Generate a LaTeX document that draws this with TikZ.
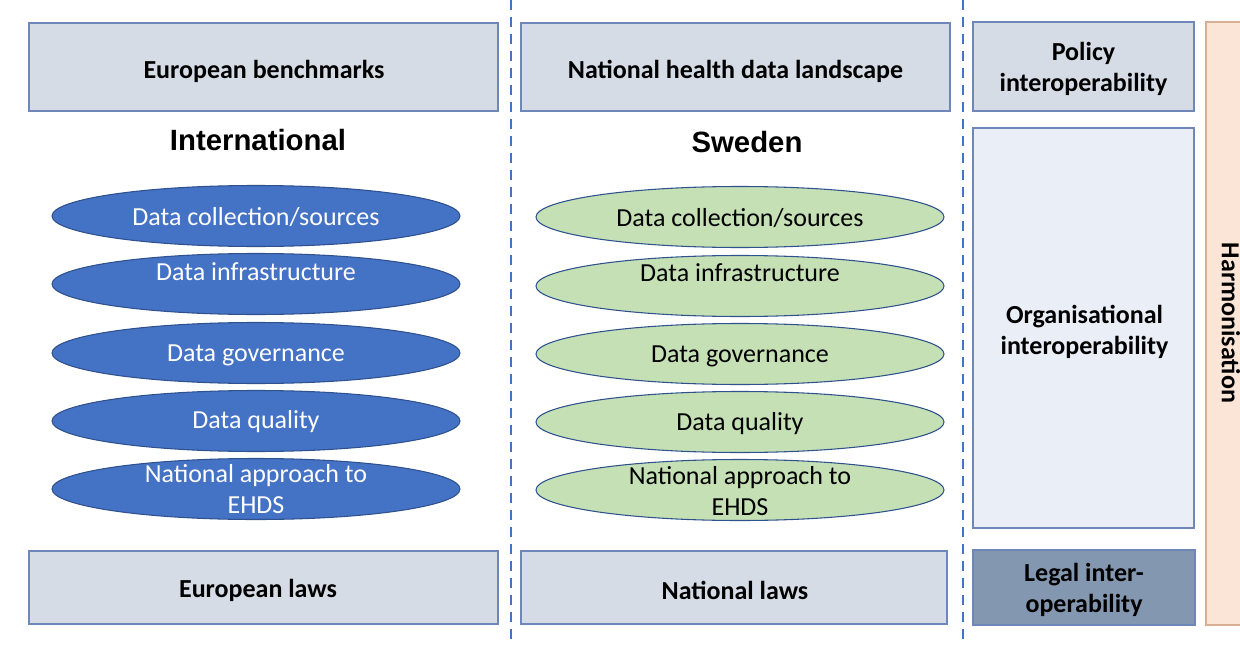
\documentclass[tikz,border=0pt]{standalone}
\usepackage{fontspec}
\setmainfont{Carlito}
\newfontfamily\headfont{Liberation Sans}
\usetikzlibrary{shapes.geometric}
\definecolor{boxfill}{HTML}{D6DCE5}
\definecolor{boxdraw}{HTML}{6E86B8}
\definecolor{orgfill}{HTML}{E9EEF7}
\definecolor{legalfill}{HTML}{8497B0}
\definecolor{harmfill}{HTML}{FBE5D6}
\definecolor{harmdraw}{HTML}{D8AE94}
\definecolor{blueell}{HTML}{4472C4}
\definecolor{greenell}{HTML}{C5E0B4}
\definecolor{elldraw}{HTML}{2F528F}
\definecolor{dashblue}{HTML}{4472C4}
\newdimen\pu
\pu=0.75pt
\begin{document}
\begin{tikzpicture}[x=0.75pt,y=-0.75pt,
  panel/.style={draw=boxdraw,line width=1.1pt,fill=boxfill,inner sep=0pt},
  ptext/.style={font=\fontsize{19.5}{23.3}\selectfont\bfseries,align=center,inner sep=0pt},
  ellbase/.style={ellipse,draw=elldraw,line width=0.8pt,inner sep=0pt,
    minimum width=408\pu,minimum height=61\pu},
  bluee/.style={ellbase,fill=blueell},
  greene/.style={ellbase,fill=greenell},
  etext/.style={font=\fontsize{19.5}{23.3}\selectfont,align=center,inner sep=0pt},
  heading/.style={font=\headfont\fontsize{22}{26}\selectfont\bfseries},
  divider/.style={dashblue,line width=2.1pt,dash pattern=on 10\pu off 7\pu}]
\useasboundingbox (0,0) rectangle (1240,646);
% dividers
\coordinate (d1t) at (511,0); \coordinate (d1b) at (511,646);
\coordinate (d2t) at (963,0); \coordinate (d2b) at (963,646);
\draw[divider] (d1t) -- (d1b);
\draw[divider] (d2t) -- (d2b);
% top boxes
\node[panel,minimum width=469\pu,minimum height=88\pu] (eb) at (263.5,67) {};
\node[ptext] (ebt) at (264,71) {European benchmarks};
\node[panel,minimum width=429\pu,minimum height=88\pu] (nh) at (735.5,67) {};
\node[ptext] (nht) at (735.5,71) {National health data landscape};
% headings
\node[heading] (intl) at (258,140.5) {International};
\node[heading] (swe) at (747,142.5) {Sweden};
% left ellipses
\node[bluee] (l1) at (256,216) {};
\node[bluee] (l2) at (256,284) {};
\node[bluee] (l3) at (256,353) {};
\node[bluee] (l4) at (256,421) {};
\node[bluee] (l5) at (256,489) {};
\node[etext,text=white] (l1t) at (256,217) {Data collection/sources};
\node[etext,text=white] (l2t) at (256,272) {Data infrastructure};
\node[etext,text=white] (l3t) at (256,355) {Data governance};
\node[etext,text=white] (l4t) at (256,422) {Data quality};
\node[etext,text=white] (l5t) at (256,489) {National approach to\\EHDS};
% right ellipses
\node[greene] (r1) at (740,217) {};
\node[greene] (r2) at (740,286) {};
\node[greene] (r3) at (740,354) {};
\node[greene] (r4) at (740,422) {};
\node[greene] (r5) at (740,490) {};
\node[etext] (r1t) at (740,218) {Data collection/sources};
\node[etext] (r2t) at (740,273) {Data infrastructure};
\node[etext] (r3t) at (740,356) {Data governance};
\node[etext] (r4t) at (740,424) {Data quality};
\node[etext] (r5t) at (740,491) {National approach to\\EHDS};
% bottom boxes
\node[panel,minimum width=469\pu,minimum height=73\pu] (el) at (263.5,587.5) {};
\node[ptext] (elt) at (258,590.5) {European laws};
\node[panel,minimum width=426\pu,minimum height=73\pu] (nl) at (734,587.5) {};
\node[ptext] (nlt) at (735,590.5) {National laws};
% right column
\node[panel,minimum width=221\pu,minimum height=89\pu] (pol) at (1083.5,66.5) {};
\node[ptext] (polt) at (1083.5,69) {Policy\\interoperability};
\node[panel,fill=orgfill,minimum width=221\pu,minimum height=400\pu] (org) at (1083.5,328) {};
\node[ptext] (orgt) at (1084.5,332) {Organisational\\interoperability};
\node[panel,fill=legalfill,minimum width=222\pu,minimum height=75\pu] (leg) at (1084,587.5) {};
\node[ptext] (legt) at (1084,590) {Legal inter-\\operability};
\node[panel,fill=harmfill,draw=harmdraw,minimum width=60\pu,minimum height=603\pu] (harm) at (1236,323.5) {};
\node[ptext,rotate=-90] (harmt) at (1231,323) {Harmonisation};
\end{tikzpicture}
\end{document}
